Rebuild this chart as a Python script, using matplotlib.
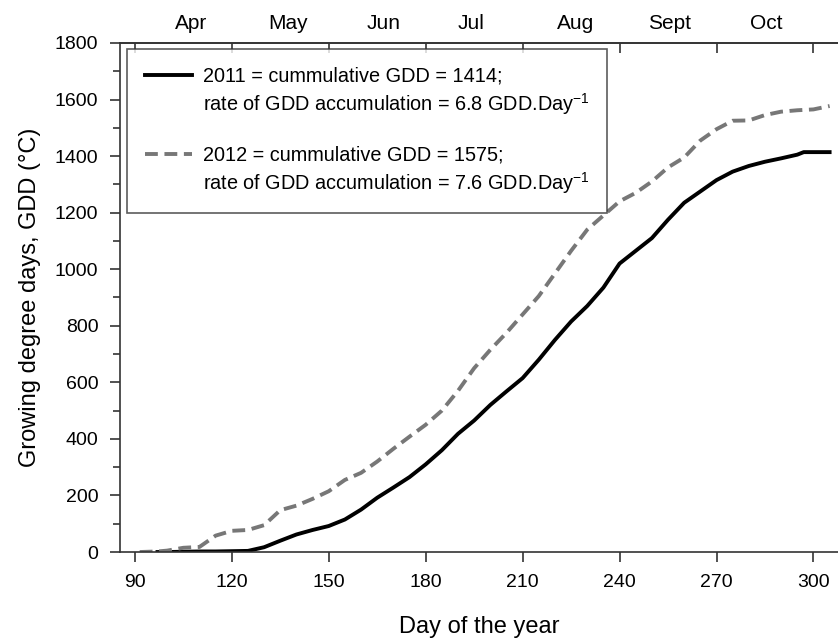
import matplotlib
matplotlib.use("Agg")
import matplotlib.pyplot as plt
from matplotlib.lines import Line2D
from matplotlib.ticker import MultipleLocator

plt.rcParams["font.family"] = ["Liberation Sans", "DejaVu Sans"]
plt.rcParams["mathtext.fontset"] = "custom"
plt.rcParams["mathtext.rm"] = "Liberation Sans"

# cumulative GDD
days_2011 = [97, 100, 105, 110, 115, 120, 125, 130, 135, 140, 145, 150, 155,
             160, 165, 170, 175, 180, 185, 190, 195, 200, 205, 210, 215, 220, 225,
             230, 235, 240, 245, 250, 255, 260, 265, 270, 275, 280, 285, 290, 295,
             297, 305]
gdd_2011 = [0, 0, 1, 2, 2, 3, 4, 17, 40, 62, 78, 92, 115,
            150, 192, 228, 265, 310, 360, 418, 465, 520, 568, 615, 680, 750, 815,
            870, 935, 1020, 1065, 1110, 1175, 1235, 1275, 1315, 1345, 1365, 1380, 1392, 1405,
            1414, 1414]

days_2012 = [91.5, 97, 100, 105, 110, 115, 120, 125, 130, 135, 140, 145, 150, 155,
             160, 165, 170, 175, 180, 185, 190, 195, 200, 205, 210, 215, 220, 225,
             230, 235, 240, 245, 250, 255, 260, 265, 270, 275, 280, 285, 290, 295,
             300, 305]
gdd_2012 = [0, 2, 5, 15, 18, 58, 75, 78, 95, 148, 164, 188, 215, 255,
            280, 320, 365, 408, 450, 500, 570, 650, 715, 775, 840, 905, 985, 1065,
            1140, 1190, 1240, 1270, 1310, 1360, 1395, 1455, 1495, 1525, 1526, 1545, 1557, 1562,
            1565, 1577]

month_labels = ["Apr", "May", "Jun", "Jul", "Aug", "Sept", "Oct"]
month_pos = [107.5, 137.5, 167, 194, 226.5, 255.5, 285.5]

label_2011 = ["2011 = cummulative GDD = 1414;",
              "rate of GDD accumulation = 6.8 GDD.Day$^{-1}$"]
label_2012 = ["2012 = cummulative GDD = 1575;",
              "rate of GDD accumulation = 7.6 GDD.Day$^{-1}$"]

fig = plt.figure(figsize=(8.38, 6.41), dpi=100)
ax = fig.add_axes([0.1432, 0.1388, 0.8568, 0.7942])

lw = 2.8
dash = (3.3, 1.7)
ax.plot(days_2011, gdd_2011, color="black", lw=lw, solid_joinstyle="round")
ax.plot(days_2012, gdd_2012, color="#777777", lw=lw, dashes=dash)

ax.set_xlim(85.4, 307.6)
ax.set_ylim(0, 1800)
ax.xaxis.set_major_locator(MultipleLocator(30))
ax.yaxis.set_major_locator(MultipleLocator(200))
ax.yaxis.set_minor_locator(MultipleLocator(100))

axis_col = "#333333"
for side in ["left", "bottom", "top"]:
    ax.spines[side].set_color(axis_col)
    ax.spines[side].set_linewidth(1.2)
ax.spines["right"].set_visible(False)

ax.tick_params(axis="both", which="major", labelsize=14, length=7, width=1.2,
               color=axis_col, direction="out", pad=8.5)
ax.tick_params(axis="y", which="minor", length=5, width=1.2, color=axis_col)
ax.tick_params(axis="x", top=False)

# month axis on top
top = ax.secondary_xaxis("top")
top.set_xticks([90, 120, 150, 180, 210, 240, 270, 300])
top.set_xticklabels([])
top.tick_params(direction="in", length=7, width=1.2, color=axis_col)
top.set_xticks(month_pos, labels=month_labels, minor=True)
top.tick_params(which="minor", length=0, labelsize=15, pad=7)
top.spines["top"].set_color(axis_col)
top.spines["top"].set_linewidth(1.2)

ax.set_xlabel("Day of the year", fontsize=17, labelpad=18)
ax.set_ylabel("Growing degree days, GDD (\u00b0C)", fontsize=17, labelpad=10)

handles = [
    Line2D([], [], color="black", lw=lw),
    Line2D([], [], color="none"),
    Line2D([], [], color="none"),
    Line2D([], [], color="#777777", lw=lw, dashes=dash),
    Line2D([], [], color="none"),
]
labels = [label_2011[0], label_2011[1], " ", label_2012[0], label_2012[1]]
leg = ax.legend(handles, labels, loc="upper left", bbox_to_anchor=(0.0098, 0.988),
                fontsize=14.3, frameon=True, fancybox=False, handlelength=2.35,
                handletextpad=0.55, labelspacing=0.25, borderpad=0.9,
                borderaxespad=0)
leg.get_frame().set_edgecolor(axis_col)
leg.get_frame().set_linewidth(1.2)

fig.savefig("out.png", dpi=100)
